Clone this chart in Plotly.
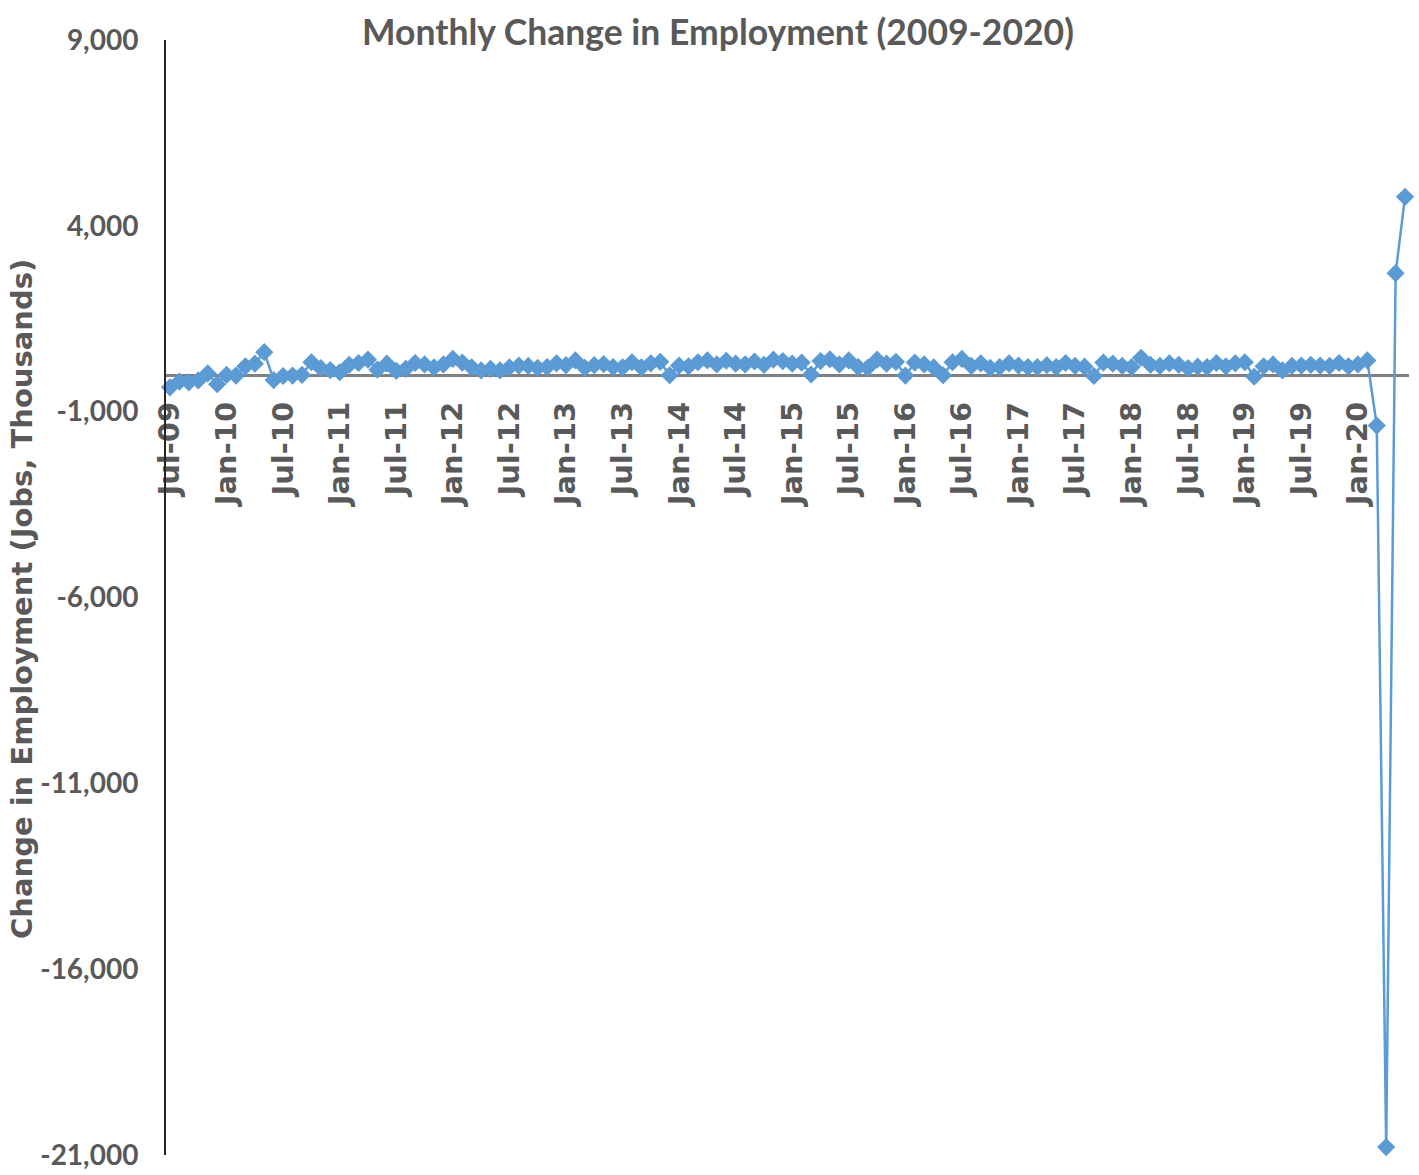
import pandas as pd
import plotly.graph_objects as go

# Monthly change in employment (thousands), Jul-2009 .. Jun-2020
months = [d.strftime("%b-%y") for d in pd.date_range("2009-07-01", "2020-06-01", freq="MS")]

values = [
    # 2009 Jul-Dec
    -346, -190, -210, -160, 30, -260,
    # 2010
    -10, -30, 220, 290, 600, -150, -40, -30, -10, 330, 170, 120,
    # 2011
    60, 260, 310, 400, 130, 290, 100, 150, 310, 270, 190, 270,
    # 2012
    420, 320, 190, 110, 150, 110, 190, 240, 230, 180, 200, 300,
    # 2013
    250, 380, 180, 250, 280, 200, 190, 330, 190, 300, 340, -20,
    # 2014
    240, 220, 330, 380, 270, 370, 290, 270, 350, 260, 400, 360,
    # 2015
    290, 320, 0, 360, 410, 270, 380, 200, 180, 400, 290, 340,
    # 2016
    -30, 320, 270, 190, -20, 330, 420, 230, 300, 180, 200, 300,
    # 2017
    240, 200, 200, 250, 200, 310, 230, 210, -40, 320, 290, 230,
    # 2018
    200, 450, 260, 230, 300, 260, 170, 210, 200, 310, 220, 300,
    # 2019
    330, -60, 220, 270, 110, 230, 240, 260, 240, 230, 310, 220,
    # 2020 Jan-Jun
    270, 380, -1373, -20787, 2725, 4781,
]

tick_labels = [m for i, m in enumerate(months) if i % 6 == 0]
y_tickvals = [9000, 4000, -1000, -6000, -11000, -16000, -21000]
y_ticktext = ["9,000", "4,000", "-1,000", "-6,000", "-11,000", "-16,000", "-21,000"]

title_text = "Monthly Change in Employment (2009-2020)"
y_title = "Change in Employment (Jobs, Thousands)"

blue = "#5B9BD5"
gray_txt = "#595959"

fig = go.Figure()
fig.add_trace(go.Scatter(
    x=months, y=values, mode="lines+markers",
    line=dict(color=blue, width=2.5),
    marker=dict(symbol="diamond", size=14, color=blue),
    showlegend=False,
    cliponaxis=False,
))

fig.update_layout(
    width=1419, height=1175,
    margin=dict(l=166, r=10, t=40, b=20, autoexpand=False),
    paper_bgcolor="white", plot_bgcolor="white",
    title=dict(text=title_text, x=718 / 1419, xanchor="center",
               y=1 - 33 / 1175, yanchor="middle",
               font=dict(family="Lato", size=35.5, color=gray_txt, weight="bold")),
    annotations=[dict(
        text=y_title, textangle=-90, showarrow=False,
        xref="paper", yref="paper",
        x=(22 - 166) / 1243, xanchor="center",
        y=(1155 - 599) / 1115, yanchor="middle",
        font=dict(family="DejaVu Sans", size=29, color=gray_txt, weight="bold"),
    )],
)

fig.update_xaxes(
    type="category", categoryorder="array", categoryarray=months,
    range=[-0.424, 131.42],
    anchor="free", position=0.7, automargin=False,
    showline=True, linecolor="#808080", linewidth=2.5,
    layer="below traces",
    showgrid=False, zeroline=False,
    tickmode="array", tickvals=tick_labels, ticktext=tick_labels,
    tickangle=-90, ticks="", ticklabelstandoff=14,
    tickfont=dict(family="DejaVu Sans", size=29, color=gray_txt, weight="bold"),
)

fig.update_yaxes(
    range=[-21000, 9000], automargin=False,
    showline=True, linecolor="#262626", linewidth=2,
    showgrid=False, zeroline=False,
    tickmode="array", tickvals=y_tickvals, ticktext=y_ticktext,
    ticks="", ticklabelstandoff=20,
    tickfont=dict(family="Lato", size=28, color=gray_txt, weight="bold"),
)

fig.write_html("out.html",
               config={"displayModeBar": False},
               post_script="document.body.style.margin='0';document.body.style.overflow='hidden';")
